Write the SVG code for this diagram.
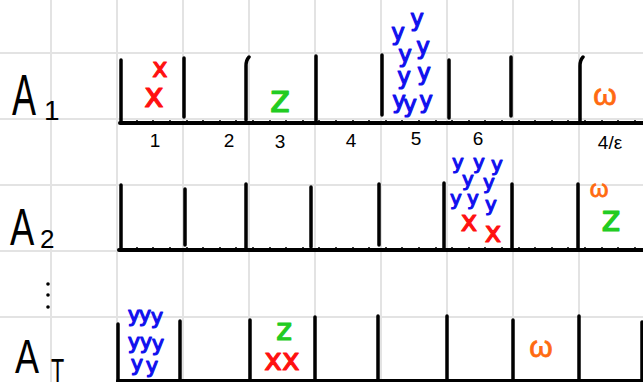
<svg xmlns="http://www.w3.org/2000/svg" width="643" height="382" viewBox="0 0 643 382">
<style>
.grid{stroke:#e3e3e3;stroke-width:2}
.bar{stroke:#000;stroke-width:3.5;stroke-linecap:round;fill:none}
.base{stroke:#000;stroke-width:4;stroke-linecap:round}
.tick{stroke:#000;stroke-width:1.5}
.lab{font-family:"Liberation Sans","DejaVu Sans",sans-serif;fill:#000}
.num{font-family:"Liberation Sans","DejaVu Sans",sans-serif;font-size:19px;fill:#000;text-anchor:middle}
.v{font-family:"DejaVu Sans","Liberation Sans",sans-serif;text-anchor:middle;stroke-width:1.2;stroke-linejoin:round}
.r{fill:#ff1010;stroke:#ff1010}.g{fill:#22cc22;stroke:#22cc22}.b{fill:#1010ee;stroke:#1010ee}.o{fill:#ff6a10;stroke:#ff6a10}
</style>
<rect width="643" height="382" fill="#fff"/>
<g id="grid">
<line class="grid" x1="51" y1="0" x2="51" y2="382"/><line class="grid" x1="117" y1="0" x2="117" y2="382"/><line class="grid" x1="183" y1="0" x2="183" y2="382"/><line class="grid" x1="249" y1="0" x2="249" y2="382"/><line class="grid" x1="315" y1="0" x2="315" y2="382"/><line class="grid" x1="381" y1="0" x2="381" y2="382"/><line class="grid" x1="447" y1="0" x2="447" y2="382"/><line class="grid" x1="513" y1="0" x2="513" y2="382"/><line class="grid" x1="579" y1="0" x2="579" y2="382"/>
<line class="grid" x1="0" y1="53" x2="643" y2="53"/><line class="grid" x1="0" y1="119" x2="643" y2="119"/><line class="grid" x1="0" y1="185" x2="643" y2="185"/><line class="grid" x1="0" y1="251" x2="643" y2="251"/><line class="grid" x1="0" y1="317" x2="643" y2="317"/>
</g>
<g id="row-A1">
<text class="lab" x="0" y="0" font-size="58" transform="translate(12,115) scale(0.62,1)">A</text>
<text class="lab" x="44" y="120" font-size="28">1</text>
<line class="base" x1="120" y1="123" x2="643" y2="123"/>
<path class="tick" d="M137 120v5M153 120v5M170 120v5M187 120v5M203 120v5M220 120v5M236 120v5M253 120v5M270 120v5M286 120v5M303 120v5M319 120v5M336 120v5M353 120v5M369 120v5M386 120v5M402 120v5M419 120v5M436 120v5M452 120v5M469 120v5M485 120v5M502 120v5M519 120v5M535 120v5M552 120v5M568 120v5M585 120v5M602 120v5M618 120v5M635 120v5"/>
<path class="bar" d="M121 60V121M184 58V117M249 57Q246 60 246 66V120M316 56V121M382 55V115M449 60V118M511 57V116M583 57Q580 60 580 66V121"/>
<text class="num" x="155" y="147">1</text><text class="num" x="229" y="147">2</text><text class="num" x="280" y="148">3</text><text class="num" x="351" y="147">4</text><text class="num" x="416" y="145">5</text><text class="num" x="478" y="145">6</text><text class="num" x="610" y="149">4/ε</text>
<text class="v r" x="160" y="77" font-size="26">x</text>
<text class="v r" x="154" y="107" font-size="33">x</text>
<text class="v g" x="280" y="112" font-size="38">z</text>
<g class="v b" font-size="23">
<text x="398" y="40">y</text><text x="417" y="26">y</text>
<text x="405" y="62">y</text><text x="423" y="54">y</text>
<text x="404" y="84">y</text><text x="424" y="80">y</text>
<text x="399" y="108">y</text><text x="410" y="112">y</text><text x="426" y="108">y</text>
</g>
<text class="lab o" x="605" y="105" font-size="30" text-anchor="middle" stroke="#ff6a10" stroke-width="0.8">ω</text>
</g>
<g id="row-A2">
<text class="lab" x="0" y="0" font-size="52" transform="translate(10,245) scale(0.7,1)">A</text>
<text class="lab" x="40" y="248" font-size="26">2</text>
<line class="base" x1="119" y1="250" x2="643" y2="250"/>
<path class="tick" d="M137 247v5M153 247v5M170 247v5M187 247v5M203 247v5M220 247v5M236 247v5M253 247v5M270 247v5M286 247v5M303 247v5M319 247v5M336 247v5M353 247v5M369 247v5M386 247v5M402 247v5M419 247v5M436 247v5M452 247v5M469 247v5M485 247v5M502 247v5M519 247v5M535 247v5M552 247v5M568 247v5M585 247v5M602 247v5M618 247v5M635 247v5"/>
<path class="bar" d="M121 185V249M185 189V245M246 184V248M311 187V247M379 184V245M444 183V249M512 184V249M578 184V249"/>
<g class="v b" font-size="20">
<text x="458" y="169">y</text><text x="479" y="169">y</text><text x="497" y="171">y</text>
<text x="468" y="186">y</text><text x="489" y="189">y</text>
<text x="456" y="205">y</text><text x="473" y="205">y</text><text x="491" y="211">y</text>
</g>
<text class="v r" x="469" y="231" font-size="28">x</text>
<text class="v r" x="493" y="242" font-size="28">x</text>
<text class="lab o" x="599" y="197" font-size="24" text-anchor="middle" stroke="#ff6a10" stroke-width="0.8">ω</text>
<text class="v g" x="611" y="231" font-size="36">z</text>
</g>
<g id="dots">
<circle cx="48" cy="284" r="1.8"/><circle cx="48" cy="295" r="1.8"/><circle cx="48" cy="307" r="1.8"/>
</g>
<g id="row-AT">
<text class="lab" x="0" y="0" font-size="48" transform="translate(15,373) scale(0.75,1)">A</text>
<text class="lab" x="0" y="0" font-size="36" transform="translate(51,383) scale(0.6,1)">T</text>
<line class="base" x1="118" y1="381" x2="643" y2="381"/>
<path class="bar" d="M118 324V381M180 321V381M250 320V381M315 317V381M378 316V381M447 316V381M513 320V381M579 316V381M642 322V381"/>
<g class="v b" font-size="21">
<text x="134" y="322">y</text><text x="145" y="322">y</text><text x="157" y="324">y</text>
<text x="134" y="349">y</text><text x="146" y="349">y</text><text x="158" y="351">y</text>
<text x="137" y="371">y</text><text x="152" y="373">y</text>
</g>
<text class="v g" x="284" y="340" font-size="30">z</text>
<text class="v r" x="282" y="370" font-size="30">xx</text>
<text class="lab o" x="541" y="357" font-size="30" text-anchor="middle" stroke="#ff6a10" stroke-width="0.8">ω</text>
</g>
</svg>
